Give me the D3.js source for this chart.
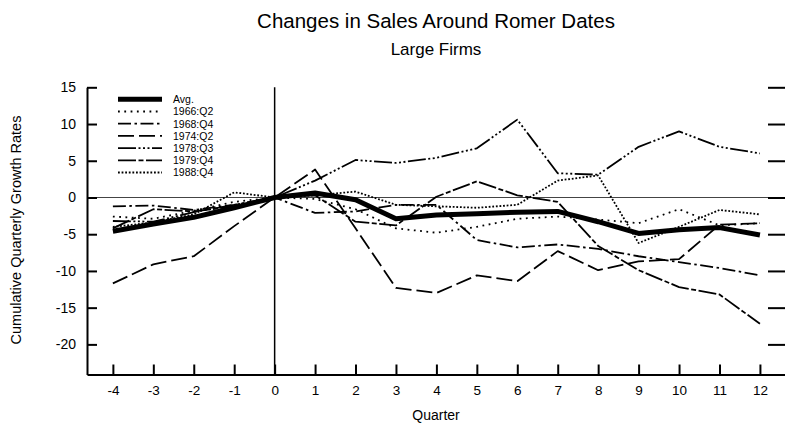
<!DOCTYPE html>
<html>
<head>
<meta charset="utf-8">
<script src="https://cdn.jsdelivr.net/npm/d3@7"></script>
<style>
  body { margin: 0; background: #fff; }
  svg { font-family: "Liberation Sans", Arial, Helvetica, sans-serif; }
</style>
</head>
<body>
<div id="chart"></div>
<script>
const quarters = [-4,-3,-2,-1,0,1,2,3,4,5,6,7,8,9,10,11,12]

const avg     = [-4.6,-3.6,-2.7,-1.4,0, 0.6,-0.3,-2.9,-2.4,-2.2,-2.0,-1.9,-3.3,-4.9,-4.4,-4.1,-5.1]
const s1966q2 = [-2.6,-2.9,-1.8,-0.6,0,-0.2,-1.6,-4.2,-4.8,-4.0,-2.9,-2.6,-3.0,-3.5,-1.6,-3.8,-3.5]
const s1968q4 = [-1.2,-1.1,-1.7,-1.0,0,-2.1,-1.9,-1.0,-1.0,-5.8,-6.8,-6.4,-7.0,-8.0,-8.8,-9.6,-10.6]
const s1974q2 = [-11.7,-9.1,-8.0,-3.9,0,3.8,-4.2,-12.3,-13.0,-10.6,-11.4,-7.3,-9.9,-8.7,-8.4,-3.7,-3.5]
const s1978q3 = [-3.2,-3.3,-2.0,-1.0,0,2.3,5.1,4.7,5.4,6.7,10.6,3.3,3.1,6.9,9.0,6.9,6.0]
const s1979q4 = [-4.2,-1.6,-1.9,-1.2,0,0.3,-3.3,-3.8,0.1,2.2,0.3,-0.6,-6.6,-9.9,-12.2,-13.2,-17.2]
const s1988q4 = [-4.0,-3.4,-2.3,0.7,0,0.3,0.8,-1.0,-1.2,-1.4,-1.0,2.3,3.0,-6.2,-4.0,-1.7,-2.3]

const seriesNames = ["Avg.","1966:Q2","1968:Q4","1974:Q2","1978:Q3","1979:Q4","1988:Q4"]
const seriesValues = [avg,s1966q2,s1968q4,s1974q2,s1978q3,s1979q4,s1988q4]

const yTicks = [15,10,5,0,-5,-10,-15,-20]

drawChart("#chart")

function drawChart(id){
    const canvas = {width:785, height:424, left:87, right:785, top:87.3, bottom:374.5}
    const svg = d3.select(id).append("svg").attr("width",canvas.width).attr("height",canvas.height)

    const x = d3.scaleLinear().domain([-4.64,12.62]).range([canvas.left,canvas.right])
    const y = d3.scaleLinear().domain([-24.1,15]).range([canvas.bottom,canvas.top])

    addTitles(svg)
    addAxes(svg,x,y,canvas)
    addLines(svg,x,y)
    addLegend(svg)
}

function addTitles(svg){
    svg.append("text").attr("x",436).attr("y",28).attr("text-anchor","middle")
    .attr("font-size","20.5px").text("Changes in Sales Around Romer Dates")
    svg.append("text").attr("x",436).attr("y",55).attr("text-anchor","middle")
    .attr("font-size","17px").text("Large Firms")
    svg.append("text").attr("x",436).attr("y",420).attr("text-anchor","middle")
    .attr("font-size","14px").text("Quarter")
    svg.append("text").attr("transform","translate(21,230) rotate(-90)").attr("text-anchor","middle")
    .attr("font-size","14.5px").text("Cumulative Quarterly Growth Rates")
}

function addAxes(svg,x,y,canvas){
    // reference lines at zero
    svg.append("line").attr("x1",canvas.left).attr("x2",canvas.right).attr("y1",y(0)).attr("y2",y(0))
    .attr("stroke","#444").attr("stroke-width",1.2)
    svg.append("line").attr("x1",x(0)).attr("x2",x(0)).attr("y1",canvas.top).attr("y2",canvas.bottom)
    .attr("stroke","#000").attr("stroke-width",1.5)

    const plain = d => String(d)   // hyphen minus like the original, not U+2212
    const left = svg.append("g").attr("transform",`translate(${canvas.left},0)`)
    .call(d3.axisLeft(y).tickValues(yTicks).tickFormat(plain).tickSize(-10).tickSizeOuter(0).tickPadding(11))
    const bottom = svg.append("g").attr("transform",`translate(0,${canvas.bottom})`)
    .call(d3.axisBottom(x).tickValues(quarters).tickFormat(plain).tickSize(-10).tickSizeOuter(0).tickPadding(11))
    const right = svg.append("g").attr("transform",`translate(${canvas.right},0)`)
    .call(d3.axisRight(y).tickValues(yTicks).tickSize(-17).tickSizeOuter(0).tickFormat(""))
    right.select(".domain").remove()

    ;[left,bottom,right].forEach(g => {
        g.selectAll("line").attr("stroke","#000").attr("stroke-width",2)
        g.selectAll(".domain").attr("stroke","#000").attr("stroke-width",2)
        g.selectAll("text").attr("fill","#000").attr("font-size","14px")
        .attr("font-family","'Liberation Sans', Arial, sans-serif")
    })
    bottom.selectAll("text").attr("font-size","13.5px")
}

function dashFor(name){
    return {
        "Avg.": null,
        "1966:Q2": "1.8,4.5",
        "1968:Q4": "13,3.5,2.5,3.5",
        "1974:Q2": "16,5",
        "1978:Q3": "18,2.5,2,2.5,2,2.5,2,2.5",
        "1979:Q4": "18,2.5,5,2.5",
        "1988:Q4": "1.8,1.8"
    }[name]
}

function addLines(svg,x,y){
    const line = d3.line().x((d,i)=> x(quarters[i])).y(d => y(d))
    seriesNames.forEach((name,k) => {
        svg.append("path").datum(seriesValues[k]).attr("d",line).attr("fill","none")
        .attr("stroke","#000").attr("stroke-width",name === "Avg." ? 5 : 1.8)
        .attr("stroke-linejoin","round")
        .attr("stroke-dasharray",dashFor(name))
    })
}

function addLegend(svg){
    const g = svg.append("g")
    seriesNames.forEach((name,k) => {
        const yy = 99.3 + k * 12.2
        g.append("line").attr("x1",118).attr("x2",162).attr("y1",yy).attr("y2",yy)
        .attr("stroke","#000").attr("stroke-width",name === "Avg." ? 5 : 1.8)
        .attr("stroke-dasharray",dashFor(name))
        g.append("text").attr("x",173).attr("y",yy+3.8).attr("font-size","10.5px").text(name)
    })
}
</script>
</body>
</html>
